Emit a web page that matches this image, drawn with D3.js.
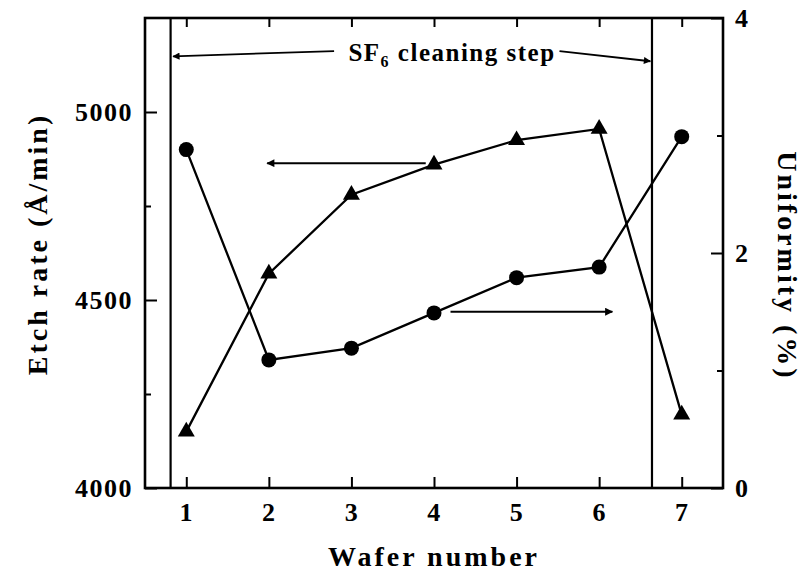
<!DOCTYPE html>
<html>
<head>
<meta charset="utf-8">
<script src="https://cdn.jsdelivr.net/npm/d3@7"></script>
<style>
  html, body { margin: 0; padding: 0; background: #fff; }
  svg { display: block; }
  svg text { font-family: "Liberation Serif", "Times New Roman", Times, serif !important; font-weight: bold; fill: #000; }
</style>
</head>
<body>
<svg id="chart" width="808" height="572"></svg>
<script>
// Wafer sequence after the SF6 chamber clean
const wafers = [1, 2, 3, 4, 5, 6, 7];
// Etch rate (Å/min), left axis, triangles
const etchRate = [4150, 4570, 4780, 4860, 4925, 4955, 4195];
// Uniformity (%), right axis, circles
const uniformity = [2.88, 1.09, 1.19, 1.49, 1.79, 1.88, 2.99];

// Tick values
const xTicks = [1, 2, 3, 4, 5, 6, 7];
const leftTicks = [4000, 4500, 5000];
const leftMinor = [4250, 4750];
const rightTicks = [0, 2, 4];
const rightMinor = [1, 3];

// Wafer positions bounding the cleaning step
const cleanBounds = [0.81, 6.64];

const svg = d3.select("#chart");
const W = 808, H = 572;
const plot = { left: 145, right: 723, top: 18, bottom: 488 };

const x = d3.scaleLinear().domain([0.5, 7.5]).range([plot.left, plot.right]);
const yL = d3.scaleLinear().domain([4000, 5250]).range([plot.bottom, plot.top]);
const yR = d3.scaleLinear().domain([0, 4]).range([plot.bottom, plot.top]);

svg.append("rect").attr("width", W).attr("height", H).attr("fill", "#fff");

// Arrowhead marker
const defs = svg.append("defs");
defs.append("marker")
  .attr("id", "head")
  .attr("viewBox", "0 0 10 10")
  .attr("refX", 9).attr("refY", 5)
  .attr("markerWidth", 5).attr("markerHeight", 4)
  .attr("markerUnits", "strokeWidth")
  .attr("orient", "auto")
  .append("path").attr("d", "M0,0 L10,5 L0,10 Z").attr("fill", "#000");

// Axes (ticks point inward)
function styleAxis(g, fontSize) {
  g.attr("font-family", null);
  g.select(".domain").remove();
  g.selectAll(".tick line").attr("stroke", "#000").attr("stroke-width", 2);
  g.selectAll(".tick text")
    .attr("font-size", fontSize)
    .attr("letter-spacing", 1.5)
    .attr("fill", "#000");
}

svg.append("g").attr("transform", `translate(0,${plot.bottom})`)
  .call(d3.axisBottom(x).tickValues(xTicks).tickFormat(d3.format("d")).tickSize(-11).tickSizeOuter(0).tickPadding(15))
  .call(g => styleAxis(g, 26));

svg.append("g").attr("transform", `translate(0,${plot.top})`)
  .call(d3.axisTop(x).tickValues(xTicks).tickFormat("").tickSize(-9).tickSizeOuter(0))
  .call(g => styleAxis(g, 26));

svg.append("g").attr("transform", `translate(${plot.left},0)`)
  .call(d3.axisLeft(yL).tickValues(leftTicks).tickFormat(d3.format("d")).tickSize(-12).tickSizeOuter(0).tickPadding(12))
  .call(g => styleAxis(g, 26));

svg.append("g").attr("transform", `translate(${plot.left},0)`)
  .call(d3.axisLeft(yL).tickValues(leftMinor).tickFormat("").tickSize(-6).tickSizeOuter(0))
  .call(g => styleAxis(g, 26));

svg.append("g").attr("transform", `translate(${plot.right},0)`)
  .call(d3.axisRight(yR).tickValues(rightTicks).tickFormat(d3.format("d")).tickSize(-12).tickSizeOuter(0).tickPadding(12))
  .call(g => styleAxis(g, 26));

svg.append("g").attr("transform", `translate(${plot.right},0)`)
  .call(d3.axisRight(yR).tickValues(rightMinor).tickFormat("").tickSize(-6).tickSizeOuter(0))
  .call(g => styleAxis(g, 26));

// Frame
svg.append("rect")
  .attr("x", plot.left).attr("y", plot.top)
  .attr("width", plot.right - plot.left).attr("height", plot.bottom - plot.top)
  .attr("fill", "none").attr("stroke", "#000").attr("stroke-width", 2.6);

// Vertical lines marking the cleaning step
svg.selectAll("line.bound").data(cleanBounds).join("line")
  .attr("class", "bound")
  .attr("x1", d => x(d)).attr("x2", d => x(d))
  .attr("y1", plot.top).attr("y2", plot.bottom)
  .attr("stroke", "#000").attr("stroke-width", 2.2);

// Series lines
const etchLine = d3.line().x((d, i) => x(wafers[i])).y(d => yL(d));
const unifLine = d3.line().x((d, i) => x(wafers[i])).y(d => yR(d));

svg.append("path").datum(etchRate).attr("d", etchLine)
  .attr("fill", "none").attr("stroke", "#000").attr("stroke-width", 2.3);
svg.append("path").datum(uniformity).attr("d", unifLine)
  .attr("fill", "none").attr("stroke", "#000").attr("stroke-width", 2.3);

// Markers
svg.selectAll("path.tri").data(etchRate).join("path")
  .attr("class", "tri")
  .attr("transform", (d, i) => `translate(${x(wafers[i])},${yL(d)})`)
  .attr("d", d3.symbol().type(d3.symbolTriangle).size(125))
  .attr("fill", "#000");

svg.selectAll("circle.dot").data(uniformity).join("circle")
  .attr("class", "dot")
  .attr("cx", (d, i) => x(wafers[i])).attr("cy", d => yR(d))
  .attr("r", 7.5)
  .attr("fill", "#000");

// Arrows pointing each series to its axis
function arrow(x1, y1, x2, y2, w) {
  svg.append("line")
    .attr("x1", x1).attr("y1", y1).attr("x2", x2).attr("y2", y2)
    .attr("stroke", "#000").attr("stroke-width", w || 2)
    .attr("marker-end", "url(#head)");
}
arrow(x(3.90), yL(4864), x(1.98), yL(4864));
arrow(x(4.20), yR(1.50), x(6.16), yR(1.50));

// Cleaning-step label with arrows to both bounds
arrow(x(2.79), yL(5162), x(0.84), yL(5148), 1.8);
arrow(x(5.52), yL(5162), x(6.62), yL(5135), 1.8);

const sf = svg.append("text")
  .attr("x", 452).attr("y", 61)
  .attr("text-anchor", "middle")
  .attr("font-size", 25)
  .attr("letter-spacing", 1.5);
sf.append("tspan").text("SF");
sf.append("tspan").attr("font-size", 16).attr("dy", 6).text("6");
sf.append("tspan").attr("dy", -6).text(" cleaning step");

// Axis titles
svg.append("text")
  .attr("x", (plot.left + plot.right) / 2).attr("y", 566)
  .attr("text-anchor", "middle")
  .attr("font-size", 28).attr("letter-spacing", 3)
  .text("Wafer number");

svg.append("text")
  .attr("transform", "translate(47,244) rotate(-90)")
  .attr("text-anchor", "middle")
  .attr("font-size", 28).attr("letter-spacing", 3)
  .text("Etch rate (Å/min)");

svg.append("text")
  .attr("transform", "translate(778,266) rotate(90)")
  .attr("text-anchor", "middle")
  .attr("font-size", 28).attr("letter-spacing", 3)
  .text("Uniformity (%)");
</script>
</body>
</html>
